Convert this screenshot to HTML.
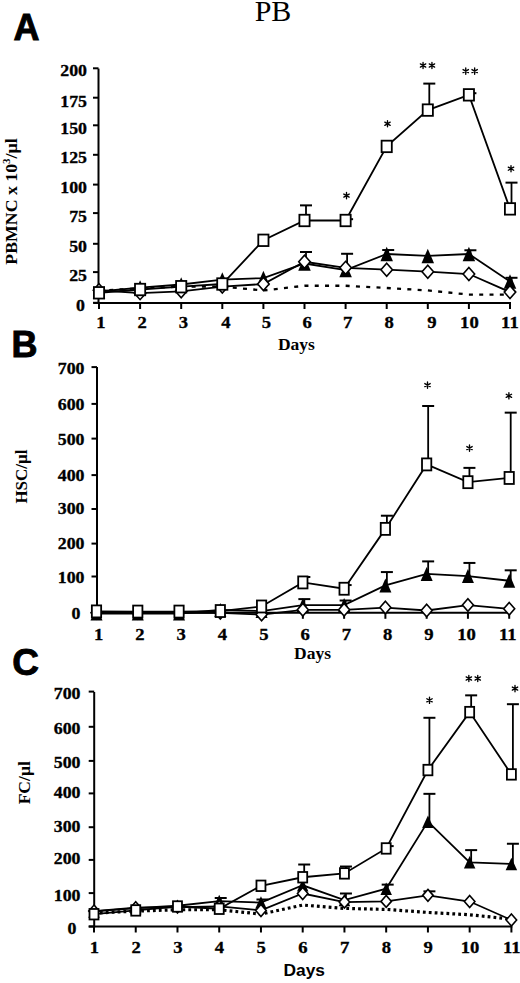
<!DOCTYPE html><html><head><meta charset="utf-8"><style>html,body{margin:0;padding:0;background:#fff;}body{width:520px;height:983px;overflow:hidden;}svg{display:block;}</style></head><body>
<svg width="520" height="983" viewBox="0 0 520 983">
<rect width="520" height="983" fill="#fff"/>
<text x="273" y="20.6" font-family='"Liberation Serif", serif' font-size="30" font-weight="normal" text-anchor="middle" >PB</text>
<text x="13.5" y="39.6" font-family='"Liberation Sans", sans-serif' font-size="36" font-weight="bold" text-anchor="start" stroke="#000" stroke-width="0.9">A</text>
<text x="11.5" y="357.2" font-family='"Liberation Sans", sans-serif' font-size="36" font-weight="bold" text-anchor="start" stroke="#000" stroke-width="0.9">B</text>
<text x="12.3" y="675.2" font-family='"Liberation Sans", sans-serif' font-size="37" font-weight="bold" text-anchor="start" stroke="#000" stroke-width="0.9">C</text>
<line x1="98.5" y1="68.6" x2="98.5" y2="304" stroke="#000" stroke-width="2" />
<line x1="93.5" y1="303" x2="511" y2="303" stroke="#000" stroke-width="2" />
<line x1="93" y1="68.3" x2="98.5" y2="68.3" stroke="#000" stroke-width="2" />
<text transform="translate(87,76.3) scale(1.1,1)" font-family='"Liberation Serif", serif' font-size="16.2" font-weight="bold" text-anchor="end" stroke="#000" stroke-width="0.3">200</text>
<line x1="93" y1="97.7" x2="98.5" y2="97.7" stroke="#000" stroke-width="2" />
<text transform="translate(87,106.6) scale(1.1,1)" font-family='"Liberation Serif", serif' font-size="16.2" font-weight="bold" text-anchor="end" stroke="#000" stroke-width="0.3">175</text>
<line x1="93" y1="125.3" x2="98.5" y2="125.3" stroke="#000" stroke-width="2" />
<text transform="translate(87,133.8) scale(1.1,1)" font-family='"Liberation Serif", serif' font-size="16.2" font-weight="bold" text-anchor="end" stroke="#000" stroke-width="0.3">150</text>
<line x1="93" y1="154.8" x2="98.5" y2="154.8" stroke="#000" stroke-width="2" />
<text transform="translate(87,163.2) scale(1.1,1)" font-family='"Liberation Serif", serif' font-size="16.2" font-weight="bold" text-anchor="end" stroke="#000" stroke-width="0.3">125</text>
<line x1="93" y1="184.6" x2="98.5" y2="184.6" stroke="#000" stroke-width="2" />
<text transform="translate(87,193.1) scale(1.1,1)" font-family='"Liberation Serif", serif' font-size="16.2" font-weight="bold" text-anchor="end" stroke="#000" stroke-width="0.3">100</text>
<line x1="93" y1="213.1" x2="98.5" y2="213.1" stroke="#000" stroke-width="2" />
<text transform="translate(87,221.9) scale(1.1,1)" font-family='"Liberation Serif", serif' font-size="16.2" font-weight="bold" text-anchor="end" stroke="#000" stroke-width="0.3">75</text>
<line x1="93" y1="243.8" x2="98.5" y2="243.8" stroke="#000" stroke-width="2" />
<text transform="translate(87,251.9) scale(1.1,1)" font-family='"Liberation Serif", serif' font-size="16.2" font-weight="bold" text-anchor="end" stroke="#000" stroke-width="0.3">50</text>
<line x1="93" y1="272.1" x2="98.5" y2="272.1" stroke="#000" stroke-width="2" />
<text transform="translate(87,280.5) scale(1.1,1)" font-family='"Liberation Serif", serif' font-size="16.2" font-weight="bold" text-anchor="end" stroke="#000" stroke-width="0.3">25</text>
<line x1="93" y1="302.8" x2="98.5" y2="302.8" stroke="#000" stroke-width="2" />
<text transform="translate(85,310.8) scale(1.1,1)" font-family='"Liberation Serif", serif' font-size="16.2" font-weight="bold" text-anchor="end" stroke="#000" stroke-width="0.3">0</text>
<line x1="99" y1="303" x2="99" y2="309" stroke="#000" stroke-width="2" />
<text transform="translate(100.8,328) scale(1.15,1)" font-family='"Liberation Serif", serif' font-size="16.2" font-weight="bold" text-anchor="middle" stroke="#000" stroke-width="0.3">1</text>
<line x1="140.1" y1="303" x2="140.1" y2="309" stroke="#000" stroke-width="2" />
<text transform="translate(142.2,328) scale(1.15,1)" font-family='"Liberation Serif", serif' font-size="16.2" font-weight="bold" text-anchor="middle" stroke="#000" stroke-width="0.3">2</text>
<line x1="181.2" y1="303" x2="181.2" y2="309" stroke="#000" stroke-width="2" />
<text transform="translate(183.5,328) scale(1.15,1)" font-family='"Liberation Serif", serif' font-size="16.2" font-weight="bold" text-anchor="middle" stroke="#000" stroke-width="0.3">3</text>
<line x1="222.3" y1="303" x2="222.3" y2="309" stroke="#000" stroke-width="2" />
<text transform="translate(225.9,328) scale(1.15,1)" font-family='"Liberation Serif", serif' font-size="16.2" font-weight="bold" text-anchor="middle" stroke="#000" stroke-width="0.3">4</text>
<line x1="263.4" y1="303" x2="263.4" y2="309" stroke="#000" stroke-width="2" />
<text transform="translate(266.5,328) scale(1.15,1)" font-family='"Liberation Serif", serif' font-size="16.2" font-weight="bold" text-anchor="middle" stroke="#000" stroke-width="0.3">5</text>
<line x1="304.5" y1="303" x2="304.5" y2="309" stroke="#000" stroke-width="2" />
<text transform="translate(307.2,328) scale(1.15,1)" font-family='"Liberation Serif", serif' font-size="16.2" font-weight="bold" text-anchor="middle" stroke="#000" stroke-width="0.3">6</text>
<line x1="345.6" y1="303" x2="345.6" y2="309" stroke="#000" stroke-width="2" />
<text transform="translate(347.7,328) scale(1.15,1)" font-family='"Liberation Serif", serif' font-size="16.2" font-weight="bold" text-anchor="middle" stroke="#000" stroke-width="0.3">7</text>
<line x1="386.7" y1="303" x2="386.7" y2="309" stroke="#000" stroke-width="2" />
<text transform="translate(389.1,328) scale(1.15,1)" font-family='"Liberation Serif", serif' font-size="16.2" font-weight="bold" text-anchor="middle" stroke="#000" stroke-width="0.3">8</text>
<line x1="427.8" y1="303" x2="427.8" y2="309" stroke="#000" stroke-width="2" />
<text transform="translate(431.9,328) scale(1.15,1)" font-family='"Liberation Serif", serif' font-size="16.2" font-weight="bold" text-anchor="middle" stroke="#000" stroke-width="0.3">9</text>
<line x1="468.9" y1="303" x2="468.9" y2="309" stroke="#000" stroke-width="2" />
<text transform="translate(469.4,328) scale(1.15,1)" font-family='"Liberation Serif", serif' font-size="16.2" font-weight="bold" text-anchor="middle" stroke="#000" stroke-width="0.3">10</text>
<line x1="510" y1="303" x2="510" y2="309" stroke="#000" stroke-width="2" />
<text transform="translate(509.9,328) scale(1.15,1)" font-family='"Liberation Serif", serif' font-size="16.2" font-weight="bold" text-anchor="middle" stroke="#000" stroke-width="0.3">11</text>
<polyline points="99,290.69 140.1,288.35 181.2,286.59 222.3,286.59 263.4,290.46 304.5,285.77 345.6,285.77 386.7,288 427.8,290.46 468.9,294.56 510,294.56" fill="none" stroke="#000" stroke-width="2.3" stroke-linejoin="miter" stroke-dasharray="4,6.3"/>
<polyline points="99,291.51 140.1,287.53 181.2,284.48 222.3,279.56 263.4,278.04 304.5,263.5 345.6,270.07 386.7,254.01 427.8,255.89 468.9,254.01 510,281.55" fill="none" stroke="#000" stroke-width="1.8" stroke-linejoin="miter" />
<line x1="306" y1="263.5" x2="306" y2="252.02" stroke="#000" stroke-width="1.8" />
<line x1="300" y1="252.02" x2="312" y2="252.02" stroke="#000" stroke-width="2" />
<line x1="347.1" y1="270.07" x2="347.1" y2="253.78" stroke="#000" stroke-width="1.8" />
<line x1="341.1" y1="253.78" x2="353.1" y2="253.78" stroke="#000" stroke-width="2" />
<line x1="388.2" y1="254.01" x2="388.2" y2="250.03" stroke="#000" stroke-width="1.8" />
<line x1="382.2" y1="250.03" x2="394.2" y2="250.03" stroke="#000" stroke-width="2" />
<line x1="470.4" y1="254.01" x2="470.4" y2="250.26" stroke="#000" stroke-width="1.8" />
<line x1="464.4" y1="250.26" x2="476.4" y2="250.26" stroke="#000" stroke-width="2" />
<line x1="511.5" y1="281.55" x2="511.5" y2="277.8" stroke="#000" stroke-width="1.8" />
<line x1="505.5" y1="277.8" x2="517.5" y2="277.8" stroke="#000" stroke-width="2" />
<polygon points="99,284.26 105.25,298.76 92.75,298.76" fill="#000"/>
<polygon points="140.1,280.28 146.35,294.78 133.85,294.78" fill="#000"/>
<polygon points="181.2,277.23 187.45,291.73 174.95,291.73" fill="#000"/>
<polygon points="222.3,272.31 228.55,286.81 216.05,286.81" fill="#000"/>
<polygon points="263.4,270.79 269.65,285.29 257.15,285.29" fill="#000"/>
<polygon points="304.5,256.25 310.75,270.75 298.25,270.75" fill="#000"/>
<polygon points="345.6,262.82 351.85,277.32 339.35,277.32" fill="#000"/>
<polygon points="386.7,246.76 392.95,261.26 380.45,261.26" fill="#000"/>
<polygon points="427.8,248.64 434.05,263.14 421.55,263.14" fill="#000"/>
<polygon points="468.9,246.76 475.15,261.26 462.65,261.26" fill="#000"/>
<polygon points="510,274.3 516.25,288.8 503.75,288.8" fill="#000"/>
<polyline points="99,290.23 140.1,293.16 181.2,291.28 222.3,286.59 263.4,284.01 304.5,261.75 345.6,267.84 386.7,269.72 427.8,271.71 468.9,274.05 510,292.1" fill="none" stroke="#000" stroke-width="1.8" stroke-linejoin="miter" />
<polygon points="99,283.73 104.75,290.23 99,296.73 93.25,290.23" fill="#fff" stroke="#000" stroke-width="1.6" stroke-linejoin="miter"/>
<polygon points="140.1,286.66 145.85,293.16 140.1,299.66 134.35,293.16" fill="#fff" stroke="#000" stroke-width="1.6" stroke-linejoin="miter"/>
<polygon points="181.2,284.78 186.95,291.28 181.2,297.78 175.45,291.28" fill="#fff" stroke="#000" stroke-width="1.6" stroke-linejoin="miter"/>
<polygon points="222.3,280.09 228.05,286.59 222.3,293.09 216.55,286.59" fill="#fff" stroke="#000" stroke-width="1.6" stroke-linejoin="miter"/>
<polygon points="263.4,277.51 269.15,284.01 263.4,290.51 257.65,284.01" fill="#fff" stroke="#000" stroke-width="1.6" stroke-linejoin="miter"/>
<polygon points="304.5,255.25 310.25,261.75 304.5,268.25 298.75,261.75" fill="#fff" stroke="#000" stroke-width="1.6" stroke-linejoin="miter"/>
<polygon points="345.6,261.34 351.35,267.84 345.6,274.34 339.85,267.84" fill="#fff" stroke="#000" stroke-width="1.6" stroke-linejoin="miter"/>
<polygon points="386.7,263.22 392.45,269.72 386.7,276.22 380.95,269.72" fill="#fff" stroke="#000" stroke-width="1.6" stroke-linejoin="miter"/>
<polygon points="427.8,265.21 433.55,271.71 427.8,278.21 422.05,271.71" fill="#fff" stroke="#000" stroke-width="1.6" stroke-linejoin="miter"/>
<polygon points="468.9,267.55 474.65,274.05 468.9,280.55 463.15,274.05" fill="#fff" stroke="#000" stroke-width="1.6" stroke-linejoin="miter"/>
<polygon points="510,285.6 515.75,292.1 510,298.6 504.25,292.1" fill="#fff" stroke="#000" stroke-width="1.6" stroke-linejoin="miter"/>
<polyline points="99,292.8 140.1,289.52 181.2,286.71 222.3,284.01 263.4,240.3 304.5,220.49 345.6,220.49 386.7,146.42 427.8,110.09 468.9,94.85 510,208.89" fill="none" stroke="#000" stroke-width="1.8" stroke-linejoin="miter" />
<line x1="306" y1="220.49" x2="306" y2="205.37" stroke="#000" stroke-width="1.8" />
<line x1="300" y1="205.37" x2="312" y2="205.37" stroke="#000" stroke-width="2" />
<line x1="347.1" y1="220.49" x2="347.1" y2="219.2" stroke="#000" stroke-width="1.8" />
<line x1="341.1" y1="219.2" x2="353.1" y2="219.2" stroke="#000" stroke-width="2" />
<line x1="429.3" y1="110.09" x2="429.3" y2="83.6" stroke="#000" stroke-width="1.8" />
<line x1="423.3" y1="83.6" x2="435.3" y2="83.6" stroke="#000" stroke-width="2" />
<line x1="470.4" y1="94.85" x2="470.4" y2="93.21" stroke="#000" stroke-width="1.8" />
<line x1="464.4" y1="93.21" x2="476.4" y2="93.21" stroke="#000" stroke-width="2" />
<line x1="511.5" y1="208.89" x2="511.5" y2="182.64" stroke="#000" stroke-width="1.8" />
<line x1="505.5" y1="182.64" x2="517.5" y2="182.64" stroke="#000" stroke-width="2" />
<rect x="93.9" y="287.05" width="10.2" height="11.5" fill="#fff" stroke="#000" stroke-width="1.8"/>
<rect x="135" y="283.77" width="10.2" height="11.5" fill="#fff" stroke="#000" stroke-width="1.8"/>
<rect x="176.1" y="280.96" width="10.2" height="11.5" fill="#fff" stroke="#000" stroke-width="1.8"/>
<rect x="217.2" y="278.26" width="10.2" height="11.5" fill="#fff" stroke="#000" stroke-width="1.8"/>
<rect x="258.3" y="234.55" width="10.2" height="11.5" fill="#fff" stroke="#000" stroke-width="1.8"/>
<rect x="299.4" y="214.74" width="10.2" height="11.5" fill="#fff" stroke="#000" stroke-width="1.8"/>
<rect x="340.5" y="214.74" width="10.2" height="11.5" fill="#fff" stroke="#000" stroke-width="1.8"/>
<rect x="381.6" y="140.67" width="10.2" height="11.5" fill="#fff" stroke="#000" stroke-width="1.8"/>
<rect x="422.7" y="104.34" width="10.2" height="11.5" fill="#fff" stroke="#000" stroke-width="1.8"/>
<rect x="463.8" y="89.1" width="10.2" height="11.5" fill="#fff" stroke="#000" stroke-width="1.8"/>
<rect x="504.9" y="203.14" width="10.2" height="11.5" fill="#fff" stroke="#000" stroke-width="1.8"/>
<path d="M346.5 192.5L346.5 198.7M343.82 194.05L349.18 197.15M343.82 197.15L349.18 194.05" stroke="#000" stroke-width="1.35" stroke-linecap="round" fill="none"/>
<path d="M387.5 120.65L387.5 126.85M384.82 122.2L390.18 125.3M384.82 125.3L390.18 122.2" stroke="#000" stroke-width="1.35" stroke-linecap="round" fill="none"/>
<path d="M423.05 62.4L423.05 68.6M420.37 63.95L425.73 67.05M420.37 67.05L425.73 63.95" stroke="#000" stroke-width="1.35" stroke-linecap="round" fill="none"/>
<path d="M431.95 62.4L431.95 68.6M429.27 63.95L434.63 67.05M429.27 67.05L434.63 63.95" stroke="#000" stroke-width="1.35" stroke-linecap="round" fill="none"/>
<path d="M465.75 68L465.75 74.2M463.07 69.55L468.43 72.65M463.07 72.65L468.43 69.55" stroke="#000" stroke-width="1.35" stroke-linecap="round" fill="none"/>
<path d="M474.65 68L474.65 74.2M471.97 69.55L477.33 72.65M471.97 72.65L477.33 69.55" stroke="#000" stroke-width="1.35" stroke-linecap="round" fill="none"/>
<path d="M511 165.6L511 171.8M508.32 167.15L513.68 170.25M508.32 170.25L513.68 167.15" stroke="#000" stroke-width="1.35" stroke-linecap="round" fill="none"/>
<text x="296.4" y="350.1" font-family='"Liberation Serif", serif' font-size="17.5" font-weight="bold" text-anchor="middle" >Days</text>
<text transform="translate(17.3,201.5) rotate(-90) scale(1,0.98)" font-family='"Liberation Serif", serif' font-size="17.8" font-weight="bold" text-anchor="middle">PBMNC x 10<tspan font-size="11" dy="-7">3</tspan><tspan dy="7">/µl</tspan></text>
<line x1="97" y1="367" x2="97" y2="613.8" stroke="#000" stroke-width="2" />
<line x1="96" y1="612.8" x2="510.2" y2="612.8" stroke="#000" stroke-width="2" />
<line x1="91.5" y1="367.1" x2="97" y2="367.1" stroke="#000" stroke-width="2" />
<text transform="translate(84.5,373.8) scale(1.1,1)" font-family='"Liberation Serif", serif' font-size="16.2" font-weight="bold" text-anchor="end" stroke="#000" stroke-width="0.3">700</text>
<line x1="91.5" y1="403.9" x2="97" y2="403.9" stroke="#000" stroke-width="2" />
<text transform="translate(84.5,409.9) scale(1.1,1)" font-family='"Liberation Serif", serif' font-size="16.2" font-weight="bold" text-anchor="end" stroke="#000" stroke-width="0.3">600</text>
<line x1="91.5" y1="438.6" x2="97" y2="438.6" stroke="#000" stroke-width="2" />
<text transform="translate(84.5,445) scale(1.1,1)" font-family='"Liberation Serif", serif' font-size="16.2" font-weight="bold" text-anchor="end" stroke="#000" stroke-width="0.3">500</text>
<line x1="91.5" y1="475.1" x2="97" y2="475.1" stroke="#000" stroke-width="2" />
<text transform="translate(84.5,481.4) scale(1.1,1)" font-family='"Liberation Serif", serif' font-size="16.2" font-weight="bold" text-anchor="end" stroke="#000" stroke-width="0.3">400</text>
<line x1="91.5" y1="509" x2="97" y2="509" stroke="#000" stroke-width="2" />
<text transform="translate(84.5,514.4) scale(1.1,1)" font-family='"Liberation Serif", serif' font-size="16.2" font-weight="bold" text-anchor="end" stroke="#000" stroke-width="0.3">300</text>
<line x1="91.5" y1="543.6" x2="97" y2="543.6" stroke="#000" stroke-width="2" />
<text transform="translate(84.5,549) scale(1.1,1)" font-family='"Liberation Serif", serif' font-size="16.2" font-weight="bold" text-anchor="end" stroke="#000" stroke-width="0.3">200</text>
<line x1="91.5" y1="576.5" x2="97" y2="576.5" stroke="#000" stroke-width="2" />
<text transform="translate(84.5,582.9) scale(1.1,1)" font-family='"Liberation Serif", serif' font-size="16.2" font-weight="bold" text-anchor="end" stroke="#000" stroke-width="0.3">100</text>
<line x1="91.5" y1="612.5" x2="97" y2="612.5" stroke="#000" stroke-width="2" />
<text transform="translate(80.5,618.7) scale(1.1,1)" font-family='"Liberation Serif", serif' font-size="16.2" font-weight="bold" text-anchor="end" stroke="#000" stroke-width="0.3">0</text>
<line x1="96.5" y1="612.8" x2="96.5" y2="618.8" stroke="#000" stroke-width="2" />
<text transform="translate(98.7,640) scale(1.15,1)" font-family='"Liberation Serif", serif' font-size="16.2" font-weight="bold" text-anchor="middle" stroke="#000" stroke-width="0.3">1</text>
<line x1="137.77" y1="612.8" x2="137.77" y2="618.8" stroke="#000" stroke-width="2" />
<text transform="translate(139.97,640) scale(1.15,1)" font-family='"Liberation Serif", serif' font-size="16.2" font-weight="bold" text-anchor="middle" stroke="#000" stroke-width="0.3">2</text>
<line x1="179.04" y1="612.8" x2="179.04" y2="618.8" stroke="#000" stroke-width="2" />
<text transform="translate(181.24,640) scale(1.15,1)" font-family='"Liberation Serif", serif' font-size="16.2" font-weight="bold" text-anchor="middle" stroke="#000" stroke-width="0.3">3</text>
<line x1="220.31" y1="612.8" x2="220.31" y2="618.8" stroke="#000" stroke-width="2" />
<text transform="translate(222.51,640) scale(1.15,1)" font-family='"Liberation Serif", serif' font-size="16.2" font-weight="bold" text-anchor="middle" stroke="#000" stroke-width="0.3">4</text>
<line x1="261.58" y1="612.8" x2="261.58" y2="618.8" stroke="#000" stroke-width="2" />
<text transform="translate(263.78,640) scale(1.15,1)" font-family='"Liberation Serif", serif' font-size="16.2" font-weight="bold" text-anchor="middle" stroke="#000" stroke-width="0.3">5</text>
<line x1="302.85" y1="612.8" x2="302.85" y2="618.8" stroke="#000" stroke-width="2" />
<text transform="translate(305.05,640) scale(1.15,1)" font-family='"Liberation Serif", serif' font-size="16.2" font-weight="bold" text-anchor="middle" stroke="#000" stroke-width="0.3">6</text>
<line x1="344.12" y1="612.8" x2="344.12" y2="618.8" stroke="#000" stroke-width="2" />
<text transform="translate(346.32,640) scale(1.15,1)" font-family='"Liberation Serif", serif' font-size="16.2" font-weight="bold" text-anchor="middle" stroke="#000" stroke-width="0.3">7</text>
<line x1="385.39" y1="612.8" x2="385.39" y2="618.8" stroke="#000" stroke-width="2" />
<text transform="translate(387.59,640) scale(1.15,1)" font-family='"Liberation Serif", serif' font-size="16.2" font-weight="bold" text-anchor="middle" stroke="#000" stroke-width="0.3">8</text>
<line x1="426.66" y1="612.8" x2="426.66" y2="618.8" stroke="#000" stroke-width="2" />
<text transform="translate(428.86,640) scale(1.15,1)" font-family='"Liberation Serif", serif' font-size="16.2" font-weight="bold" text-anchor="middle" stroke="#000" stroke-width="0.3">9</text>
<line x1="467.93" y1="612.8" x2="467.93" y2="618.8" stroke="#000" stroke-width="2" />
<text transform="translate(466.43,640) scale(1.15,1)" font-family='"Liberation Serif", serif' font-size="16.2" font-weight="bold" text-anchor="middle" stroke="#000" stroke-width="0.3">10</text>
<line x1="509.2" y1="612.8" x2="509.2" y2="618.8" stroke="#000" stroke-width="2" />
<text transform="translate(507.7,640) scale(1.15,1)" font-family='"Liberation Serif", serif' font-size="16.2" font-weight="bold" text-anchor="middle" stroke="#000" stroke-width="0.3">11</text>
<polyline points="96.5,613.5 137.77,613.5 179.04,613.5 220.31,609.99 261.58,611.04 302.85,605.07 344.12,605.07 385.39,585.41 426.66,573.93 467.93,576.04 509.2,580.74" fill="none" stroke="#000" stroke-width="1.8" stroke-linejoin="miter" />
<line x1="304.35" y1="605.07" x2="304.35" y2="599.11" stroke="#000" stroke-width="1.8" />
<line x1="298.35" y1="599.11" x2="310.35" y2="599.11" stroke="#000" stroke-width="2" />
<line x1="345.62" y1="605.07" x2="345.62" y2="600.51" stroke="#000" stroke-width="1.8" />
<line x1="339.62" y1="600.51" x2="351.62" y2="600.51" stroke="#000" stroke-width="2" />
<line x1="386.89" y1="585.41" x2="386.89" y2="572.07" stroke="#000" stroke-width="1.8" />
<line x1="380.89" y1="572.07" x2="392.89" y2="572.07" stroke="#000" stroke-width="2" />
<line x1="428.16" y1="573.93" x2="428.16" y2="561.39" stroke="#000" stroke-width="1.8" />
<line x1="422.16" y1="561.39" x2="434.16" y2="561.39" stroke="#000" stroke-width="2" />
<line x1="469.43" y1="576.04" x2="469.43" y2="562.94" stroke="#000" stroke-width="1.8" />
<line x1="463.43" y1="562.94" x2="475.43" y2="562.94" stroke="#000" stroke-width="2" />
<line x1="510.7" y1="580.74" x2="510.7" y2="570.31" stroke="#000" stroke-width="1.8" />
<line x1="504.7" y1="570.31" x2="516.7" y2="570.31" stroke="#000" stroke-width="2" />
<polygon points="96.5,606.5 102.5,620.5 90.5,620.5" fill="#000"/>
<polygon points="137.77,606.5 143.77,620.5 131.77,620.5" fill="#000"/>
<polygon points="179.04,606.5 185.04,620.5 173.04,620.5" fill="#000"/>
<polygon points="220.31,602.99 226.31,616.99 214.31,616.99" fill="#000"/>
<polygon points="261.58,604.04 267.58,618.04 255.58,618.04" fill="#000"/>
<polygon points="302.85,598.07 308.85,612.07 296.85,612.07" fill="#000"/>
<polygon points="344.12,598.07 350.12,612.07 338.12,612.07" fill="#000"/>
<polygon points="385.39,578.41 391.39,592.41 379.39,592.41" fill="#000"/>
<polygon points="426.66,566.93 432.66,580.93 420.66,580.93" fill="#000"/>
<polygon points="467.93,569.04 473.93,583.04 461.93,583.04" fill="#000"/>
<polygon points="509.2,573.74 515.2,587.74 503.2,587.74" fill="#000"/>
<polyline points="96.5,612.8 137.77,612.8 179.04,612.8 220.31,612.8 261.58,614.56 302.85,609.82 344.12,609.82 385.39,607.53 426.66,610.48 467.93,605.07 509.2,608.8" fill="none" stroke="#000" stroke-width="1.8" stroke-linejoin="miter" />
<polygon points="96.5,606.55 102,612.8 96.5,619.05 91,612.8" fill="#fff" stroke="#000" stroke-width="1.6" stroke-linejoin="miter"/>
<polygon points="137.77,606.55 143.27,612.8 137.77,619.05 132.27,612.8" fill="#fff" stroke="#000" stroke-width="1.6" stroke-linejoin="miter"/>
<polygon points="179.04,606.55 184.54,612.8 179.04,619.05 173.54,612.8" fill="#fff" stroke="#000" stroke-width="1.6" stroke-linejoin="miter"/>
<polygon points="220.31,606.55 225.81,612.8 220.31,619.05 214.81,612.8" fill="#fff" stroke="#000" stroke-width="1.6" stroke-linejoin="miter"/>
<polygon points="261.58,608.31 267.08,614.56 261.58,620.81 256.08,614.56" fill="#fff" stroke="#000" stroke-width="1.6" stroke-linejoin="miter"/>
<polygon points="302.85,603.57 308.35,609.82 302.85,616.07 297.35,609.82" fill="#fff" stroke="#000" stroke-width="1.6" stroke-linejoin="miter"/>
<polygon points="344.12,603.57 349.62,609.82 344.12,616.07 338.62,609.82" fill="#fff" stroke="#000" stroke-width="1.6" stroke-linejoin="miter"/>
<polygon points="385.39,601.28 390.89,607.53 385.39,613.78 379.89,607.53" fill="#fff" stroke="#000" stroke-width="1.6" stroke-linejoin="miter"/>
<polygon points="426.66,604.23 432.16,610.48 426.66,616.73 421.16,610.48" fill="#fff" stroke="#000" stroke-width="1.6" stroke-linejoin="miter"/>
<polygon points="467.93,598.82 473.43,605.07 467.93,611.32 462.43,605.07" fill="#fff" stroke="#000" stroke-width="1.6" stroke-linejoin="miter"/>
<polygon points="509.2,602.55 514.7,608.8 509.2,615.05 503.7,608.8" fill="#fff" stroke="#000" stroke-width="1.6" stroke-linejoin="miter"/>
<polyline points="96.5,611.4 137.77,611.57 179.04,611.57 220.31,611.04 261.58,606.48 302.85,582.43 344.12,588.75 385.39,528.88 426.66,464.41 467.93,482.17 509.2,477.96" fill="none" stroke="#000" stroke-width="1.8" stroke-linejoin="miter" />
<line x1="304.35" y1="582.43" x2="304.35" y2="576.98" stroke="#000" stroke-width="1.8" />
<line x1="298.35" y1="576.98" x2="310.35" y2="576.98" stroke="#000" stroke-width="2" />
<line x1="345.62" y1="588.75" x2="345.62" y2="585.06" stroke="#000" stroke-width="1.8" />
<line x1="339.62" y1="585.06" x2="351.62" y2="585.06" stroke="#000" stroke-width="2" />
<line x1="386.89" y1="528.88" x2="386.89" y2="515.71" stroke="#000" stroke-width="1.8" />
<line x1="380.89" y1="515.71" x2="392.89" y2="515.71" stroke="#000" stroke-width="2" />
<line x1="428.16" y1="464.41" x2="428.16" y2="405.98" stroke="#000" stroke-width="1.8" />
<line x1="422.16" y1="405.98" x2="434.16" y2="405.98" stroke="#000" stroke-width="2" />
<line x1="469.43" y1="482.17" x2="469.43" y2="467.88" stroke="#000" stroke-width="1.8" />
<line x1="463.43" y1="467.88" x2="475.43" y2="467.88" stroke="#000" stroke-width="2" />
<line x1="510.7" y1="477.96" x2="510.7" y2="412.65" stroke="#000" stroke-width="1.8" />
<line x1="504.7" y1="412.65" x2="516.7" y2="412.65" stroke="#000" stroke-width="2" />
<rect x="91.85" y="605.4" width="9.3" height="12" fill="#fff" stroke="#000" stroke-width="1.8"/>
<rect x="133.12" y="605.57" width="9.3" height="12" fill="#fff" stroke="#000" stroke-width="1.8"/>
<rect x="174.39" y="605.57" width="9.3" height="12" fill="#fff" stroke="#000" stroke-width="1.8"/>
<rect x="215.66" y="605.04" width="9.3" height="12" fill="#fff" stroke="#000" stroke-width="1.8"/>
<rect x="256.93" y="600.48" width="9.3" height="12" fill="#fff" stroke="#000" stroke-width="1.8"/>
<rect x="298.2" y="576.43" width="9.3" height="12" fill="#fff" stroke="#000" stroke-width="1.8"/>
<rect x="339.47" y="582.75" width="9.3" height="12" fill="#fff" stroke="#000" stroke-width="1.8"/>
<rect x="380.74" y="522.88" width="9.3" height="12" fill="#fff" stroke="#000" stroke-width="1.8"/>
<rect x="422.01" y="458.41" width="9.3" height="12" fill="#fff" stroke="#000" stroke-width="1.8"/>
<rect x="463.28" y="476.17" width="9.3" height="12" fill="#fff" stroke="#000" stroke-width="1.8"/>
<rect x="504.55" y="471.96" width="9.3" height="12" fill="#fff" stroke="#000" stroke-width="1.8"/>
<path d="M427.5 382L427.5 388.2M424.82 383.55L430.18 386.65M424.82 386.65L430.18 383.55" stroke="#000" stroke-width="1.35" stroke-linecap="round" fill="none"/>
<path d="M469.5 445L469.5 451.2M466.82 446.55L472.18 449.65M466.82 449.65L472.18 446.55" stroke="#000" stroke-width="1.35" stroke-linecap="round" fill="none"/>
<path d="M508.9 392.7L508.9 398.9M506.22 394.25L511.58 397.35M506.22 397.35L511.58 394.25" stroke="#000" stroke-width="1.35" stroke-linecap="round" fill="none"/>
<text x="312.5" y="658.8" font-family='"Liberation Serif", serif' font-size="17.5" font-weight="bold" text-anchor="middle" >Days</text>
<text transform="translate(27,476.5) rotate(-90) scale(1,0.98)" font-family='"Liberation Serif", serif' font-size="17" font-weight="bold" text-anchor="middle">HSC/µl</text>
<line x1="94.2" y1="692" x2="94.2" y2="927.5" stroke="#000" stroke-width="2" />
<line x1="88.7" y1="926.5" x2="512.4" y2="926.5" stroke="#000" stroke-width="2" />
<line x1="88.7" y1="691.6" x2="94.2" y2="691.6" stroke="#000" stroke-width="2" />
<text transform="translate(80.5,699.1) scale(1.1,1)" font-family='"Liberation Serif", serif' font-size="16.2" font-weight="bold" text-anchor="end" stroke="#000" stroke-width="0.3">700</text>
<line x1="88.7" y1="726.8" x2="94.2" y2="726.8" stroke="#000" stroke-width="2" />
<text transform="translate(80.5,734.4) scale(1.1,1)" font-family='"Liberation Serif", serif' font-size="16.2" font-weight="bold" text-anchor="end" stroke="#000" stroke-width="0.3">600</text>
<line x1="88.7" y1="760.9" x2="94.2" y2="760.9" stroke="#000" stroke-width="2" />
<text transform="translate(80.5,768) scale(1.1,1)" font-family='"Liberation Serif", serif' font-size="16.2" font-weight="bold" text-anchor="end" stroke="#000" stroke-width="0.3">500</text>
<line x1="88.7" y1="793.4" x2="94.2" y2="793.4" stroke="#000" stroke-width="2" />
<text transform="translate(80.5,798.1) scale(1.1,1)" font-family='"Liberation Serif", serif' font-size="16.2" font-weight="bold" text-anchor="end" stroke="#000" stroke-width="0.3">400</text>
<line x1="88.7" y1="827.2" x2="94.2" y2="827.2" stroke="#000" stroke-width="2" />
<text transform="translate(80.5,831.9) scale(1.1,1)" font-family='"Liberation Serif", serif' font-size="16.2" font-weight="bold" text-anchor="end" stroke="#000" stroke-width="0.3">300</text>
<line x1="88.7" y1="859.9" x2="94.2" y2="859.9" stroke="#000" stroke-width="2" />
<text transform="translate(80.5,864.4) scale(1.1,1)" font-family='"Liberation Serif", serif' font-size="16.2" font-weight="bold" text-anchor="end" stroke="#000" stroke-width="0.3">200</text>
<line x1="88.7" y1="893.1" x2="94.2" y2="893.1" stroke="#000" stroke-width="2" />
<text transform="translate(80.5,900.8) scale(1.1,1)" font-family='"Liberation Serif", serif' font-size="16.2" font-weight="bold" text-anchor="end" stroke="#000" stroke-width="0.3">100</text>
<line x1="88.7" y1="926.5" x2="94.2" y2="926.5" stroke="#000" stroke-width="2" />
<text transform="translate(76.5,933.5) scale(1.1,1)" font-family='"Liberation Serif", serif' font-size="16.2" font-weight="bold" text-anchor="end" stroke="#000" stroke-width="0.3">0</text>
<line x1="94" y1="926.5" x2="94" y2="932.5" stroke="#000" stroke-width="2" />
<text transform="translate(94.3,953.2) scale(1.15,1)" font-family='"Liberation Serif", serif' font-size="16.2" font-weight="bold" text-anchor="middle" stroke="#000" stroke-width="0.3">1</text>
<line x1="135.74" y1="926.5" x2="135.74" y2="932.5" stroke="#000" stroke-width="2" />
<text transform="translate(136.04,953.2) scale(1.15,1)" font-family='"Liberation Serif", serif' font-size="16.2" font-weight="bold" text-anchor="middle" stroke="#000" stroke-width="0.3">2</text>
<line x1="177.48" y1="926.5" x2="177.48" y2="932.5" stroke="#000" stroke-width="2" />
<text transform="translate(177.78,953.2) scale(1.15,1)" font-family='"Liberation Serif", serif' font-size="16.2" font-weight="bold" text-anchor="middle" stroke="#000" stroke-width="0.3">3</text>
<line x1="219.22" y1="926.5" x2="219.22" y2="932.5" stroke="#000" stroke-width="2" />
<text transform="translate(219.52,953.2) scale(1.15,1)" font-family='"Liberation Serif", serif' font-size="16.2" font-weight="bold" text-anchor="middle" stroke="#000" stroke-width="0.3">4</text>
<line x1="260.96" y1="926.5" x2="260.96" y2="932.5" stroke="#000" stroke-width="2" />
<text transform="translate(261.26,953.2) scale(1.15,1)" font-family='"Liberation Serif", serif' font-size="16.2" font-weight="bold" text-anchor="middle" stroke="#000" stroke-width="0.3">5</text>
<line x1="302.7" y1="926.5" x2="302.7" y2="932.5" stroke="#000" stroke-width="2" />
<text transform="translate(303,953.2) scale(1.15,1)" font-family='"Liberation Serif", serif' font-size="16.2" font-weight="bold" text-anchor="middle" stroke="#000" stroke-width="0.3">6</text>
<line x1="344.44" y1="926.5" x2="344.44" y2="932.5" stroke="#000" stroke-width="2" />
<text transform="translate(344.74,953.2) scale(1.15,1)" font-family='"Liberation Serif", serif' font-size="16.2" font-weight="bold" text-anchor="middle" stroke="#000" stroke-width="0.3">7</text>
<line x1="386.18" y1="926.5" x2="386.18" y2="932.5" stroke="#000" stroke-width="2" />
<text transform="translate(386.48,953.2) scale(1.15,1)" font-family='"Liberation Serif", serif' font-size="16.2" font-weight="bold" text-anchor="middle" stroke="#000" stroke-width="0.3">8</text>
<line x1="427.92" y1="926.5" x2="427.92" y2="932.5" stroke="#000" stroke-width="2" />
<text transform="translate(428.22,953.2) scale(1.15,1)" font-family='"Liberation Serif", serif' font-size="16.2" font-weight="bold" text-anchor="middle" stroke="#000" stroke-width="0.3">9</text>
<line x1="469.66" y1="926.5" x2="469.66" y2="932.5" stroke="#000" stroke-width="2" />
<text transform="translate(469.96,953.2) scale(1.15,1)" font-family='"Liberation Serif", serif' font-size="16.2" font-weight="bold" text-anchor="middle" stroke="#000" stroke-width="0.3">10</text>
<line x1="511.4" y1="926.5" x2="511.4" y2="932.5" stroke="#000" stroke-width="2" />
<text transform="translate(511.7,953.2) scale(1.15,1)" font-family='"Liberation Serif", serif' font-size="16.2" font-weight="bold" text-anchor="middle" stroke="#000" stroke-width="0.3">11</text>
<polyline points="94,913.1 135.74,911.09 177.48,909.75 219.22,909.75 260.96,914.11 302.7,905.06 344.44,908.41 386.18,909.41 427.92,912.43 469.66,914.77 511.4,919.13" fill="none" stroke="#000" stroke-width="3.2" stroke-linejoin="miter" stroke-dasharray="2.8,3.1"/>
<polyline points="94,911.42 135.74,908.08 177.48,905.73 219.22,901.04 260.96,902.61 302.7,885.29 344.44,900.03 386.18,888.64 427.92,821.64 469.66,862.31 511.4,863.99" fill="none" stroke="#000" stroke-width="1.8" stroke-linejoin="miter" />
<line x1="220.72" y1="901.04" x2="220.72" y2="898.02" stroke="#000" stroke-width="1.8" />
<line x1="214.72" y1="898.02" x2="226.72" y2="898.02" stroke="#000" stroke-width="2" />
<line x1="387.68" y1="888.64" x2="387.68" y2="884.62" stroke="#000" stroke-width="1.8" />
<line x1="381.68" y1="884.62" x2="393.68" y2="884.62" stroke="#000" stroke-width="2" />
<line x1="429.42" y1="821.64" x2="429.42" y2="793.84" stroke="#000" stroke-width="1.8" />
<line x1="423.42" y1="793.84" x2="435.42" y2="793.84" stroke="#000" stroke-width="2" />
<line x1="471.16" y1="862.31" x2="471.16" y2="850.12" stroke="#000" stroke-width="1.8" />
<line x1="465.16" y1="850.12" x2="477.16" y2="850.12" stroke="#000" stroke-width="2" />
<line x1="512.9" y1="863.99" x2="512.9" y2="843.75" stroke="#000" stroke-width="1.8" />
<line x1="506.9" y1="843.75" x2="518.9" y2="843.75" stroke="#000" stroke-width="2" />
<polygon points="94,905.17 99.75,917.67 88.25,917.67" fill="#000"/>
<polygon points="135.74,901.83 141.49,914.33 129.99,914.33" fill="#000"/>
<polygon points="177.48,899.48 183.23,911.98 171.73,911.98" fill="#000"/>
<polygon points="219.22,894.79 224.97,907.29 213.47,907.29" fill="#000"/>
<polygon points="260.96,896.36 266.71,908.86 255.21,908.86" fill="#000"/>
<polygon points="302.7,879.04 308.45,891.54 296.95,891.54" fill="#000"/>
<polygon points="344.44,893.78 350.19,906.28 338.69,906.28" fill="#000"/>
<polygon points="386.18,882.39 391.93,894.89 380.43,894.89" fill="#000"/>
<polygon points="427.92,815.39 433.67,827.89 422.17,827.89" fill="#000"/>
<polygon points="469.66,856.06 475.41,868.56 463.91,868.56" fill="#000"/>
<polygon points="511.4,857.74 517.15,870.24 505.65,870.24" fill="#000"/>
<polyline points="94,911.09 135.74,907.74 177.48,907.07 219.22,906.4 260.96,910.42 302.7,893.5 344.44,902.04 386.18,901.38 427.92,895.35 469.66,901.51 511.4,920" fill="none" stroke="#000" stroke-width="1.8" stroke-linejoin="miter" />
<line x1="262.46" y1="910.42" x2="262.46" y2="899.5" stroke="#000" stroke-width="1.8" />
<line x1="256.46" y1="899.5" x2="268.46" y2="899.5" stroke="#000" stroke-width="2" />
<line x1="345.94" y1="902.04" x2="345.94" y2="893.5" stroke="#000" stroke-width="1.8" />
<line x1="339.94" y1="893.5" x2="351.94" y2="893.5" stroke="#000" stroke-width="2" />
<line x1="429.42" y1="895.35" x2="429.42" y2="891.33" stroke="#000" stroke-width="1.8" />
<line x1="423.42" y1="891.33" x2="435.42" y2="891.33" stroke="#000" stroke-width="2" />
<polygon points="94,905.09 99.25,911.09 94,917.09 88.75,911.09" fill="#fff" stroke="#000" stroke-width="1.6" stroke-linejoin="miter"/>
<polygon points="135.74,901.74 140.99,907.74 135.74,913.74 130.49,907.74" fill="#fff" stroke="#000" stroke-width="1.6" stroke-linejoin="miter"/>
<polygon points="177.48,901.07 182.73,907.07 177.48,913.07 172.23,907.07" fill="#fff" stroke="#000" stroke-width="1.6" stroke-linejoin="miter"/>
<polygon points="219.22,900.4 224.47,906.4 219.22,912.4 213.97,906.4" fill="#fff" stroke="#000" stroke-width="1.6" stroke-linejoin="miter"/>
<polygon points="260.96,904.42 266.21,910.42 260.96,916.42 255.71,910.42" fill="#fff" stroke="#000" stroke-width="1.6" stroke-linejoin="miter"/>
<polygon points="302.7,887.5 307.95,893.5 302.7,899.5 297.45,893.5" fill="#fff" stroke="#000" stroke-width="1.6" stroke-linejoin="miter"/>
<polygon points="344.44,896.04 349.69,902.04 344.44,908.04 339.19,902.04" fill="#fff" stroke="#000" stroke-width="1.6" stroke-linejoin="miter"/>
<polygon points="386.18,895.38 391.43,901.38 386.18,907.38 380.93,901.38" fill="#fff" stroke="#000" stroke-width="1.6" stroke-linejoin="miter"/>
<polygon points="427.92,889.35 433.17,895.35 427.92,901.35 422.67,895.35" fill="#fff" stroke="#000" stroke-width="1.6" stroke-linejoin="miter"/>
<polygon points="469.66,895.51 474.91,901.51 469.66,907.51 464.41,901.51" fill="#fff" stroke="#000" stroke-width="1.6" stroke-linejoin="miter"/>
<polygon points="511.4,914 516.65,920 511.4,926 506.15,920" fill="#fff" stroke="#000" stroke-width="1.6" stroke-linejoin="miter"/>
<polyline points="94,914.21 135.74,910.42 177.48,906.5 219.22,908.75 260.96,885.8 302.7,877.25 344.44,873.4 386.18,848.44 427.92,770.05 469.66,712.1 511.4,774.41" fill="none" stroke="#000" stroke-width="1.8" stroke-linejoin="miter" />
<line x1="304.2" y1="877.25" x2="304.2" y2="864.52" stroke="#000" stroke-width="1.8" />
<line x1="298.2" y1="864.52" x2="310.2" y2="864.52" stroke="#000" stroke-width="2" />
<line x1="345.94" y1="873.4" x2="345.94" y2="866.53" stroke="#000" stroke-width="1.8" />
<line x1="339.94" y1="866.53" x2="351.94" y2="866.53" stroke="#000" stroke-width="2" />
<line x1="387.68" y1="848.44" x2="387.68" y2="846.1" stroke="#000" stroke-width="1.8" />
<line x1="381.68" y1="846.1" x2="393.68" y2="846.1" stroke="#000" stroke-width="2" />
<line x1="429.42" y1="770.05" x2="429.42" y2="717.79" stroke="#000" stroke-width="1.8" />
<line x1="423.42" y1="717.79" x2="435.42" y2="717.79" stroke="#000" stroke-width="2" />
<line x1="471.16" y1="712.1" x2="471.16" y2="695.35" stroke="#000" stroke-width="1.8" />
<line x1="465.16" y1="695.35" x2="477.16" y2="695.35" stroke="#000" stroke-width="2" />
<line x1="512.9" y1="774.41" x2="512.9" y2="704.19" stroke="#000" stroke-width="1.8" />
<line x1="506.9" y1="704.19" x2="518.9" y2="704.19" stroke="#000" stroke-width="2" />
<rect x="89.5" y="908.96" width="9" height="10.5" fill="#fff" stroke="#000" stroke-width="1.8"/>
<rect x="131.24" y="905.17" width="9" height="10.5" fill="#fff" stroke="#000" stroke-width="1.8"/>
<rect x="172.98" y="901.25" width="9" height="10.5" fill="#fff" stroke="#000" stroke-width="1.8"/>
<rect x="214.72" y="903.5" width="9" height="10.5" fill="#fff" stroke="#000" stroke-width="1.8"/>
<rect x="256.46" y="880.55" width="9" height="10.5" fill="#fff" stroke="#000" stroke-width="1.8"/>
<rect x="298.2" y="872" width="9" height="10.5" fill="#fff" stroke="#000" stroke-width="1.8"/>
<rect x="339.94" y="868.15" width="9" height="10.5" fill="#fff" stroke="#000" stroke-width="1.8"/>
<rect x="381.68" y="843.19" width="9" height="10.5" fill="#fff" stroke="#000" stroke-width="1.8"/>
<rect x="423.42" y="764.8" width="9" height="10.5" fill="#fff" stroke="#000" stroke-width="1.8"/>
<rect x="465.16" y="706.85" width="9" height="10.5" fill="#fff" stroke="#000" stroke-width="1.8"/>
<rect x="506.9" y="769.16" width="9" height="10.5" fill="#fff" stroke="#000" stroke-width="1.8"/>
<path d="M429.5 697.2L429.5 703.4M426.82 698.75L432.18 701.85M426.82 701.85L432.18 698.75" stroke="#000" stroke-width="1.35" stroke-linecap="round" fill="none"/>
<path d="M468.85 675.4L468.85 681.6M466.17 676.95L471.53 680.05M466.17 680.05L471.53 676.95" stroke="#000" stroke-width="1.35" stroke-linecap="round" fill="none"/>
<path d="M477.75 675.4L477.75 681.6M475.07 676.95L480.43 680.05M475.07 680.05L480.43 676.95" stroke="#000" stroke-width="1.35" stroke-linecap="round" fill="none"/>
<path d="M515 685.5L515 691.7M512.32 687.05L517.68 690.15M512.32 690.15L517.68 687.05" stroke="#000" stroke-width="1.35" stroke-linecap="round" fill="none"/>
<text x="304.2" y="975.8" font-family='"Liberation Sans", sans-serif' font-size="17" font-weight="bold" text-anchor="middle" textLength="41.5" lengthAdjust="spacingAndGlyphs">Days</text>
<text transform="translate(30.1,782.7) rotate(-90) scale(1,0.98)" font-family='"Liberation Serif", serif' font-size="17.6" font-weight="bold" text-anchor="middle">FC/µl</text>
</svg></body></html>
